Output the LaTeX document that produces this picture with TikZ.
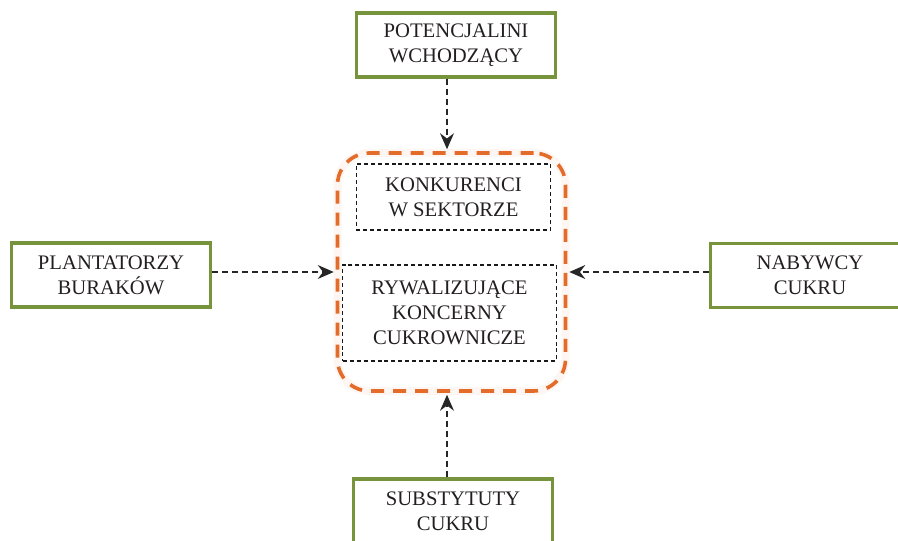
\documentclass[tikz,border=0pt]{standalone}
\usepackage{fontspec}
\setmainfont{Liberation Serif}
\usetikzlibrary{arrows.meta}
\definecolor{grn}{RGB}{119,147,60}
\definecolor{org}{RGB}{228,108,42}
\definecolor{txt}{RGB}{35,31,32}
\begin{document}
\begin{tikzpicture}[x=0.75pt,y=-0.75pt,
  every node/.style={font=\fontsize{15.5}{18.7}\selectfont, text=txt, align=center, inner sep=0pt},
  actor/.style={draw=grn, line width=2.4pt, minimum width=149pt, minimum height=48pt},
  inbox/.style={draw=black!90, line width=0.8pt, dash pattern=on 3pt off 2.2pt},
  arr/.style={draw=black!85, line width=0.8pt, dash pattern=on 4.5pt off 3pt, shorten >=1.5pt,
    -{Stealth[length=12pt,width=10.5pt,inset=4pt]}},
  grp/.style={draw=org, line width=2.7pt, dash pattern=on 9.75pt off 6.75pt, rounded corners=24pt,
    minimum width=171pt, minimum height=178.5pt}]
\useasboundingbox (0,0) rectangle (898,541);
\clip (0,0) rectangle (898,541);
% group box
\node[draw=org!6, line width=6pt, rounded corners=24pt, minimum width=171pt, minimum height=178.5pt] at (451.5,272) {};
\node[grp] (box) at (451.5,272) {};
\node[inbox, minimum width=146pt, minimum height=49.5pt] (k1) at (453.5,197) {KONKURENCI\\W SEKTORZE};
\node[inbox, minimum width=160pt, minimum height=72pt] (k2) at (449.5,313) {RYWALIZUJĄCE\\KONCERNY\\CUKROWNICZE};
% actors
\node[actor] (top) at (456,45) {POTENCJALINI\\WCHODZĄCY};
\node[actor] (left) at (111,275) {PLANTATORZY\\BURAKÓW};
\node[actor] (right) at (810,275.5) {NABYWCY\\CUKRU};
\node[actor] (bot) at (453,511) {SUBSTYTUTY\\CUKRU};
% arrows
\coordinate (ax) at (447,0);
\draw[arr] (top.south -| ax) -- (ax |- box.north);
\draw[arr] (bot.north -| ax) -- (ax |- box.south);
\draw[arr] (left.east |- box.west) -- (box.west);
\draw[arr] (right.west |- box.east) -- (box.east);
\end{tikzpicture}
\end{document}
